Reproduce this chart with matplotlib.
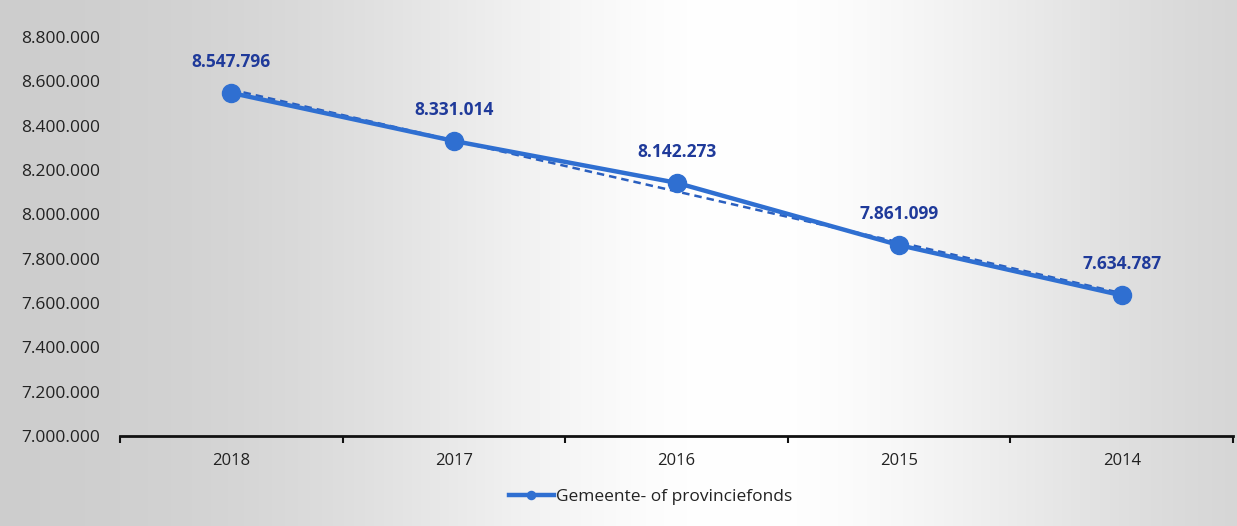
import numpy as np
import matplotlib
matplotlib.use("Agg")
import matplotlib.pyplot as plt
from matplotlib.ticker import FuncFormatter, FixedLocator

years = ["2018", "2017", "2016", "2015", "2014"]
values = [8547796, 8331014, 8142273, 7861099, 7634787]
series_name = "Gemeente- of provinciefonds"

plt.rcParams['font.family'] = ['Open Sans', 'DejaVu Sans']

fig = plt.figure(figsize=(12.37, 5.26), dpi=100)

# scanned-paper background: grey edges, white centre
bg = fig.add_axes([0, 0, 1, 1], zorder=-10)
xg = np.linspace(0, 1, 400)
yg = np.linspace(0, 1, 200)
X, Y = np.meshgrid(xg, yg)
shade = 0.80 + 0.20 * np.exp(-((X - 0.6) ** 2) / 0.10)
shade = np.clip(shade, 0, 1)
bg.imshow(np.dstack([shade, shade, shade]), extent=[0, 1, 0, 1], aspect='auto', origin='lower')
bg.axis('off')

ax = fig.add_axes([120 / 1237, 1 - 436 / 526, (1233 - 120) / 1237, (436 - 37) / 526])
ax.patch.set_alpha(0)

x = np.arange(len(years))
line_color = "#2f6fd1"
ax.plot(x, values, color=line_color, lw=3.2, marker='o', markersize=13,
        label=series_name, zorder=3)

# linear trendline
coef = np.polyfit(x, values, 1)
ax.plot(x, np.polyval(coef, x), color="#2a5fbf", lw=1.8, ls=(0, (3, 2)), zorder=2)

for xi, v in zip(x, values):
    lbl = f"{v:,}".replace(",", ".")
    ax.annotate(lbl, (xi, v), xytext=(0, 22.5), textcoords='offset points',
                ha='center', va='center', color="#1f3a9a", fontsize=12.5, fontweight='bold')

ax.set_xlim(-0.5, len(years) - 0.5)
ax.set_ylim(7000000, 8800000)
ax.set_yticks(np.arange(7000000, 8800001, 200000))
ax.yaxis.set_major_formatter(FuncFormatter(lambda v, p: f"{int(v):,}".replace(",", ".")))
ax.set_xticks(x)
ax.set_xticklabels(years)
ax.xaxis.set_minor_locator(FixedLocator(np.arange(-0.5, len(years), 1.0)))
ax.tick_params(axis='x', which='major', length=0, pad=12, labelsize=12, labelcolor="#222222")
ax.tick_params(axis='x', which='minor', length=5, width=1.5, direction='out', color='#111111')
ax.tick_params(axis='y', length=0, pad=14, labelsize=12.5, labelcolor="#222222")

for s in ['top', 'right', 'left']:
    ax.spines[s].set_visible(False)
ax.spines['bottom'].set_color('#111111')
ax.spines['bottom'].set_linewidth(2)

leg = fig.legend(loc='center', bbox_to_anchor=(0.526, 1 - 497 / 526), frameon=False,
                 fontsize=12.5, handlelength=2.6, handletextpad=0.15, markerscale=0.45)
for t in leg.get_texts():
    t.set_color("#222222")

fig.savefig("out.png", dpi=100)
